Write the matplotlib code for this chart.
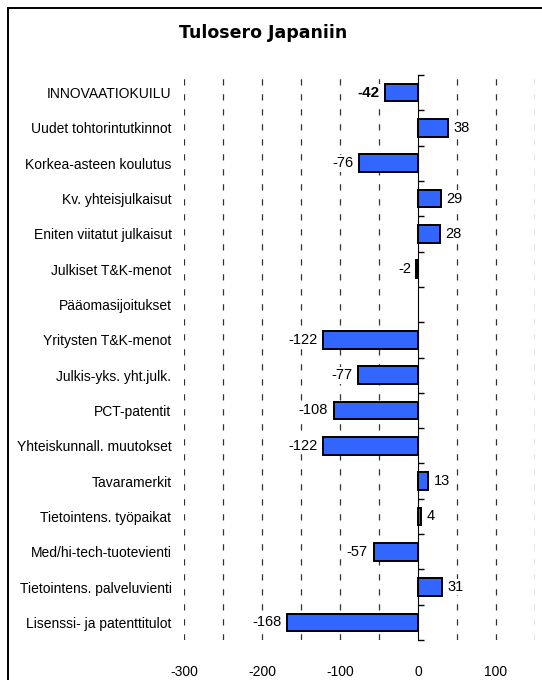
import numpy as np
import matplotlib.pyplot as plt
from matplotlib.patches import Rectangle

categories = [
    "INNOVAATIOKUILU",
    "Uudet tohtorintutkinnot",
    "Korkea-asteen koulutus",
    "Kv. yhteisjulkaisut",
    "Eniten viitatut julkaisut",
    "Julkiset T&K-menot",
    "Pääomasijoitukset",
    "Yritysten T&K-menot",
    "Julkis-yks. yht.julk.",
    "PCT-patentit",
    "Yhteiskunnall. muutokset",
    "Tavaramerkit",
    "Tietointens. työpaikat",
    "Med/hi-tech-tuotevienti",
    "Tietointens. palveluvienti",
    "Lisenssi- ja patenttitulot",
]
values = [-42, 38, -76, 29, 28, -2, np.nan, -122, -77, -108, -122, 13, 4, -57, 31, -168]
x_ticks = [-300, -200, -100, 0, 100]
grid_x = [-300, -250, -200, -150, -100, -50, 0, 50, 100, 150]

plt.rcParams["font.family"] = ["Liberation Sans", "DejaVu Sans"]
plt.rcParams["axes.unicode_minus"] = False

fig = plt.figure(figsize=(5.42, 6.8), dpi=100)
ax = fig.add_axes([184 / 542, 1 - 640 / 680, 351 / 542, 565 / 680])

n = len(categories)
y = np.arange(n)
vals = np.array(values, dtype=float)
has = ~np.isnan(vals)
ax.barh(y[has], vals[has], height=0.5, color="#3366ff",
        edgecolor="black", linewidth=1.4, zorder=3)

box = dict(facecolor="white", edgecolor="none", pad=1)
for i, v in enumerate(vals):
    if np.isnan(v):
        continue
    bold = i == 0
    if v < 0:
        ax.annotate(f"{v:.0f}", (v, i), xytext=(-4, 0), textcoords="offset points",
                    ha="right", va="center", fontsize=11 if bold else 10.5,
                    fontweight="bold" if bold else "normal", bbox=box, zorder=4)
    else:
        ax.annotate(f"{v:.0f}", (v, i), xytext=(4, 0), textcoords="offset points",
                    ha="left", va="center", fontsize=10.5, bbox=box, zorder=4)

ax.set_xlim(-300, 150)
ax.set_ylim(n - 0.5, -0.5)

for gx in grid_x:
    if gx == 0:
        continue
    ax.axvline(gx, color="#333333", linewidth=0.9, linestyle=(0, (5, 7)), zorder=1)

ax.set_xticks(x_ticks)
ax.set_yticks(y)
ax.set_yticklabels(categories)
ax.tick_params(axis="x", length=0, pad=18, labelsize=10)
ax.tick_params(axis="y", length=0, pad=9, labelsize=10)
for s in ax.spines.values():
    s.set_visible(False)

# zero line with category boundary ticks
zero_frac = (0 - (-300)) / 450
sec = ax.secondary_yaxis(zero_frac)
sec.set_yticks(np.arange(n + 1) - 0.5)
sec.set_yticklabels([])
sec.tick_params(axis="y", direction="out", length=4, width=1.0, color="black")
sec.spines["left"].set_linewidth(1.3)
sec.set_zorder(5)

fig.text(263 / 542, 1 - 33 / 680, "Tulosero Japaniin", ha="center", va="center",
         fontsize=12.5, fontweight="bold", family="DejaVu Sans")

fig.patches.append(Rectangle((8 / 542, -0.05), 1.0, 1 - 8 / 680 + 0.05,
                             transform=fig.transFigure, fill=False,
                             edgecolor="black", linewidth=1.4))

fig.savefig("out.png", dpi=100)
